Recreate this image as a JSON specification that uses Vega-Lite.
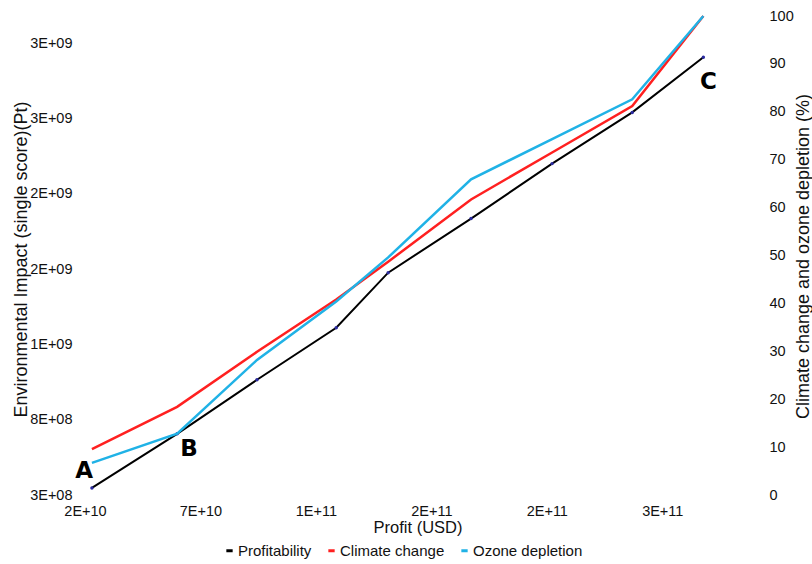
{
  "$schema": "https://vega.github.io/schema/vega-lite/v6.json",
  "width": 665,
  "height": 479,
  "autosize": {"type": "none"},
  "padding": {"left": 85, "top": 16, "right": 62, "bottom": 69},
  "background": "white",
  "config": {
    "font": "Liberation Sans",
    "view": {"stroke": null},
    "axis": {
      "grid": false,
      "domain": false,
      "ticks": false,
      "labelColor": "#111111",
      "titleColor": "#111111",
      "labelFontSize": 14.5,
      "labelFlush": false,
      "labelOverlap": false,
      "labelBound": false,
      "titleFontWeight": "normal"
    }
  },
  "datasets": {
    "lines": [
      {"series": "Profitability", "profit": 2.30e10, "value": 3.47e8},
      {"series": "Profitability", "profit": 5.99e10, "value": 7.06e8},
      {"series": "Profitability", "profit": 9.45e10, "value": 1.065e9},
      {"series": "Profitability", "profit": 1.288e11, "value": 1.41e9},
      {"series": "Profitability", "profit": 1.513e11, "value": 1.776e9},
      {"series": "Profitability", "profit": 1.872e11, "value": 2.135e9},
      {"series": "Profitability", "profit": 2.223e11, "value": 2.50e9},
      {"series": "Profitability", "profit": 2.570e11, "value": 2.84e9},
      {"series": "Profitability", "profit": 2.878e11, "value": 3.206e9},
      {"series": "Climate change", "profit": 2.30e10, "value": 9.6},
      {"series": "Climate change", "profit": 5.99e10, "value": 18.4},
      {"series": "Climate change", "profit": 9.45e10, "value": 29.9},
      {"series": "Climate change", "profit": 1.288e11, "value": 40.8},
      {"series": "Climate change", "profit": 1.513e11, "value": 48.7},
      {"series": "Climate change", "profit": 1.872e11, "value": 61.7},
      {"series": "Climate change", "profit": 2.223e11, "value": 71.5},
      {"series": "Climate change", "profit": 2.570e11, "value": 81.2},
      {"series": "Climate change", "profit": 2.878e11, "value": 100},
      {"series": "Ozone depletion", "profit": 2.30e10, "value": 6.7},
      {"series": "Ozone depletion", "profit": 5.99e10, "value": 12.8},
      {"series": "Ozone depletion", "profit": 9.45e10, "value": 28.2},
      {"series": "Ozone depletion", "profit": 1.288e11, "value": 40.4},
      {"series": "Ozone depletion", "profit": 1.513e11, "value": 49.6},
      {"series": "Ozone depletion", "profit": 1.872e11, "value": 65.9},
      {"series": "Ozone depletion", "profit": 2.223e11, "value": 74.3},
      {"series": "Ozone depletion", "profit": 2.570e11, "value": 82.6},
      {"series": "Ozone depletion", "profit": 2.878e11, "value": 100}
    ],
    "marks": [
      {"label": "A", "profit": 1.96e10, "value": 5.0},
      {"label": "B", "profit": 6.51e10, "value": 9.5},
      {"label": "C", "profit": 2.90e11, "value": 86.2}
    ]
  },
  "encoding": {
    "x": {
      "field": "profit",
      "type": "quantitative",
      "scale": {"domain": [2e10, 3.08e11], "nice": false, "zero": false},
      "axis": {
        "values": [2e10, 7e10, 1.2e11, 1.7e11, 2.2e11, 2.7e11],
        "labelExpr": "replace(format(datum.value, '.0e'), 'e+', 'E+')",
        "labelPadding": 9,
        "title": "Profit  (USD)",
        "titleFontSize": 16.5,
        "titlePadding": 2
      }
    }
  },
  "layer": [
    {
      "data": {"name": "lines"},
      "transform": [{"filter": "datum.series === 'Profitability'"}],
      "encoding": {
        "y": {
          "field": "value",
          "type": "quantitative",
          "scale": {"domain": [3e8, 3.48e9], "nice": false, "zero": false},
          "axis": {
            "orient": "left",
            "values": [3e8, 8e8, 1.3e9, 1.8e9, 2.3e9, 2.8e9, 3.3e9],
            "labelExpr": "replace(format(datum.value, '.0e'), 'e+', 'E+0')",
            "labelPadding": 13,
            "title": "Environmental Impact (single score)(Pt)",
            "titleFontSize": 18,
            "titleAngle": 270,
            "titleX": -64,
            "titleY": 243,
            "titleAlign": "center",
            "titleBaseline": "middle"
          }
        }
      },
      "layer": [
        {
          "mark": {"type": "line", "strokeWidth": 2},
          "encoding": {
            "color": {
              "field": "series",
              "type": "nominal",
              "scale": {
                "domain": ["Profitability", "Climate change", "Ozone depletion"],
                "range": ["#000000", "#ff2020", "#20b2e6"]
              },
              "legend": {
                "orient": "none",
                "legendX": 137,
                "legendY": 527,
                "direction": "horizontal",
                "title": null,
                "symbolType": "stroke",
                "symbolStrokeWidth": 3,
                "symbolSize": 40,
                "labelFontSize": 15,
                "labelColor": "#111111",
                "labelOffset": 1,
                "columnPadding": 10,
                "padding": 0
              }
            }
          }
        },
        {
          "mark": {"type": "point", "filled": true, "size": 12, "color": "#2b2ba0", "opacity": 1}
        }
      ]
    },
    {
      "encoding": {
        "y": {
          "field": "value",
          "type": "quantitative",
          "scale": {"domain": [0, 100], "nice": false, "zero": false},
          "axis": {
            "orient": "right",
            "values": [0, 10, 20, 30, 40, 50, 60, 70, 80, 90, 100],
            "labelPadding": 19,
            "title": "Climate change and ozone depletion (%)",
            "titleFontSize": 18,
            "titleAngle": 270,
            "titleX": 53,
            "titleY": 240,
            "titleAlign": "center",
            "titleBaseline": "middle"
          }
        }
      },
      "layer": [
        {
          "data": {"name": "lines"},
          "transform": [{"filter": "datum.series !== 'Profitability'"}],
          "mark": {"type": "line", "strokeWidth": 2.5},
          "encoding": {
            "color": {"field": "series", "type": "nominal"}
          }
        },
        {
          "data": {"name": "marks"},
          "mark": {"type": "text", "font": "DejaVu Sans", "fontSize": 23, "fontWeight": "bold", "color": "#000000", "align": "center", "baseline": "middle"},
          "encoding": {
            "text": {"field": "label"}
          }
        }
      ]
    }
  ],
  "resolve": {"scale": {"y": "independent"}, "axis": {"y": "independent"}}
}
